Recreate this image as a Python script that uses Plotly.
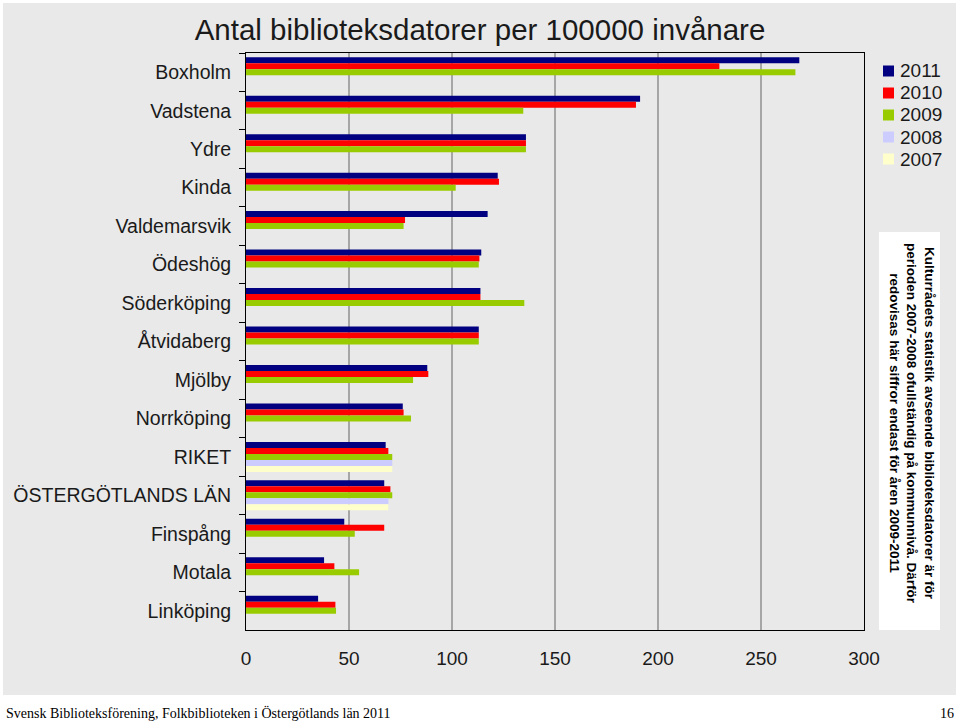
import plotly.graph_objects as go

# Kommuner, uppifrån och ned
kommuner = ['Boxholm', 'Vadstena', 'Ydre', 'Kinda', 'Valdemarsvik', 'Ödeshög',
            'Söderköping', 'Åtvidaberg', 'Mjölby', 'Norrköping', 'RIKET',
            'ÖSTERGÖTLANDS LÄN', 'Finspång', 'Motala', 'Linköping']

v2011 = [268.6, 191.3, 135.9, 122.2, 117.3, 114.2, 113.8, 113.0, 88.0, 76.1,
         67.8, 67.1, 47.7, 37.9, 35.0]
v2010 = [229.8, 189.3, 135.9, 122.8, 77.2, 113.3, 113.8, 113.0, 88.5, 76.5,
         69.1, 70.1, 67.1, 42.9, 43.4]
v2009 = [266.7, 134.6, 135.9, 101.8, 76.5, 113.0, 135.1, 113.0, 81.1, 80.1,
         71.0, 71.0, 52.8, 54.9, 43.7]
v2008 = [None] * 10 + [71.0, 69.1] + [None] * 3
v2007 = [None] * 10 + [71.0, 69.1] + [None] * 3

years = ['2011', '2010', '2009', '2008', '2007']
series = [v2011, v2010, v2009, v2008, v2007]
colors = ['#000080', '#ff0000', '#99cc00', '#ccccff', '#ffffcc']

xticks = [0, 50, 100, 150, 200, 250, 300]

note = ("Kulturrådets statistik avseende biblioteksdatorer är för<br>"
        "perioden 2007-2008 ofullständig på kommunnivå. Därför<br>"
        "redovisas här siffror endast för åren 2009-2011")

W, H = 960, 725
L, R, T, B = 246, 96, 53, 95
pw, ph = W - L - R, H - T - B


def px(x):
    return (x - L) / pw


def py(y):
    return (H - B - y) / ph


fig = go.Figure()
for year, vals, col in zip(years, series, colors):
    fig.add_trace(go.Bar(
        y=kommuner, x=vals, name=year, orientation='h',
        marker=dict(color=col, line=dict(width=0)),
        showlegend=False,
    ))

shapes = [
    # grå diagramyta
    dict(type='rect', xref='paper', yref='paper', layer='below',
         x0=px(3), x1=px(956), y0=py(695), y1=py(3),
         fillcolor='#e9e9e9', line=dict(width=0)),
    # vit ruta för anteckning
    dict(type='rect', xref='paper', yref='paper',
         x0=px(879), x1=px(940), y0=py(630), y1=py(232),
         fillcolor='white', line=dict(width=0)),
]

annotations = [
    dict(text=note, xref='paper', yref='paper', x=px(939), y=py(423),
         textangle=90, showarrow=False, align='center',
         font=dict(family='Liberation Sans', size=13.5, color='black', weight='bold')),
    dict(text='Svensk Biblioteksförening, Folkbiblioteken i Östergötlands län 2011',
         xref='paper', yref='paper', x=px(4), y=py(713), xanchor='left',
         yanchor='middle', showarrow=False,
         font=dict(family='Liberation Serif', size=14, color='black')),
    dict(text='16', xref='paper', yref='paper', x=px(956), y=py(713),
         xanchor='right', yanchor='middle', showarrow=False,
         font=dict(family='Liberation Serif', size=14, color='black')),
]

# förklaring (ritad för hand för tätare radavstånd)
for i, (year, col) in enumerate(zip(years, colors)):
    yc = 71 + 22 * i
    shapes.append(dict(type='rect', xref='paper', yref='paper',
                       x0=px(883), x1=px(894), y0=py(yc + 5.5), y1=py(yc - 5.5),
                       fillcolor=col, line=dict(width=0)))
    annotations.append(dict(text=year, xref='paper', yref='paper',
                            x=px(898), y=py(yc), xanchor='left', yanchor='middle',
                            showarrow=False,
                            font=dict(family='Liberation Sans', size=19, color='#1a1a1a')))

fig.update_layout(
    width=W, height=H,
    margin=dict(l=L, r=R, t=T, b=B),
    paper_bgcolor='white',
    plot_bgcolor='#f3f3f3',
    barmode='group', bargap=0.22, bargroupgap=0,
    font=dict(family='Liberation Sans', color='#1a1a1a'),
    title=dict(text='Antal biblioteksdatorer per 100000 invånare',
               x=0.5, xref='container', y=1 - 30 / H, yref='container',
               xanchor='center', yanchor='middle',
               font=dict(size=29.5, color='#1a1a1a')),
    showlegend=False,
    xaxis=dict(range=[0, 300], tickvals=xticks, showgrid=True,
               gridcolor='#a6a6a6', gridwidth=1.5, zeroline=False,
               showline=True, linecolor='black', linewidth=1, mirror=True,
               ticks='', ticklabelstandoff=11, tickfont=dict(size=19),
               automargin=False),
    yaxis=dict(autorange='reversed', showgrid=False, showline=True,
               linecolor='black', linewidth=1, mirror=True,
               ticks='outside', tickson='boundaries', ticklen=6,
               tickcolor='black', ticklabelstandoff=10,
               tickfont=dict(size=19.5), automargin=False),
    shapes=shapes,
    annotations=annotations,
)

fig.write_html('out.html', config={'displayModeBar': False},
               post_script="document.body.style.margin='0';")
